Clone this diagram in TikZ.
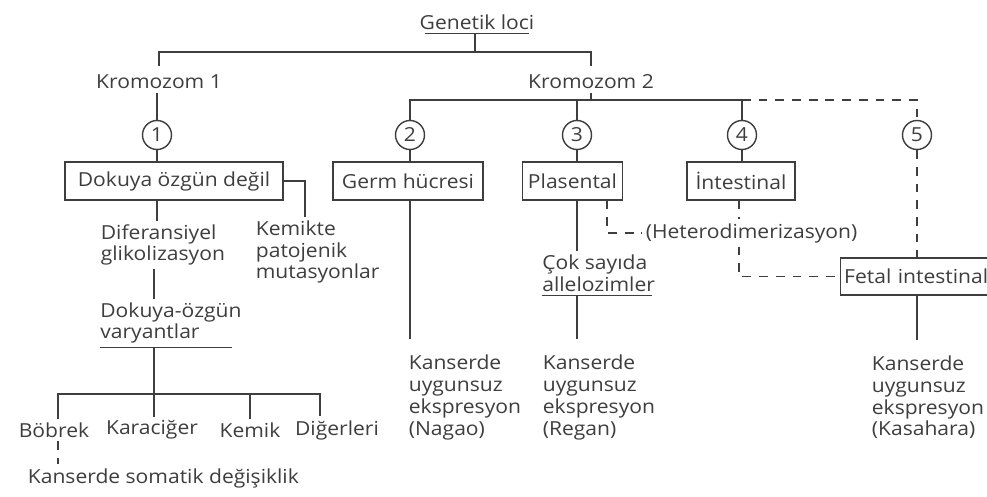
\documentclass[tikz,border=0pt]{standalone}
\usepackage{fontspec}
\setmainfont{Open Sans}[FakeStretch=1.09]
\usepackage{tikz}
\usetikzlibrary{positioning,calc}
\definecolor{ink}{HTML}{3E3E3E}
\definecolor{paper}{HTML}{FFFFFF}
\newcommand{\lfont}{\fontsize{11pt}{12.35pt}\selectfont}
\tikzset{
  lbl/.style={inner sep=2pt, text=ink, font=\lfont, align=left},
  box/.style={draw=ink, line width=0.8pt, inner sep=3pt, minimum height=0.76cm,
              text=ink, font=\lfont},
  num/.style={circle, draw=ink, line width=0.8pt, minimum size=0.58cm,
              inner sep=0pt, text=ink, font=\lfont},
  link/.style={draw=ink, line width=0.8pt},
  dlink/.style={link, dash pattern=on 5pt off 4.5pt}
}

\begin{document}
\begin{tikzpicture}[x=1cm,y=1cm]
        \useasboundingbox[fill=paper] (0,0) rectangle (19.74,9.92);
        % top of the tree
        \node[lbl] (loci) at (9.54,9.48) {Genetik loci};
        \node[lbl] (k1) at (3.18,8.28) {Kromozom 1};
        \node[lbl] (k2) at (11.82,8.28) {Kromozom 2};
        \coordinate (lociJ) at (9.50,8.88);
        \coordinate (k2bar) at (11.86,7.92);
        \draw[link] ([xshift=5pt]loci.south west) -- ([xshift=-5pt]loci.south east);
        \draw[link] (loci.south -| lociJ) -- (lociJ);
        \draw[link] ([yshift=3pt]k1.north) |- (lociJ) -| ([yshift=3pt]k2.north);

        \node[num] (c1) at (3.14,7.22) {1};
        \node[num] (c2) at (8.20,7.22) {2};
        \node[num] (c3) at (11.54,7.22) {3};
        \node[num] (c4) at (14.84,7.22) {4};
        \node[num] (c5) at (18.34,7.22) {5};

        \node[box,minimum width=4.36cm] (dok) at (3.48,6.30) {Dokuya özgün değil};
        \node[box,minimum width=3.0cm] (germ) at (8.16,6.30) {Germ hücresi};
        \node[box,minimum width=1.98cm] (plas) at (11.45,6.30) {Plasental};
        \node[box,minimum width=2.16cm] (intes) at (14.82,6.30) {İntestinal};
        \node[box,anchor=west,text width=3.6cm,align=left,minimum height=0.74cm,
          inner xsep=2pt] (fetal) at (16.80,4.39) {Fetal intestinal};

        \draw[link] (k1.south -| c1) -- (c1.north);
        \draw[link] (k2.south) -- (k2.south |- k2bar);
        \draw[link] (c2.north) |- (c4.north |- k2bar) -- (c4.north);
        \draw[link] (c3.north |- k2bar) -- (c3.north);
        \draw[dlink] (c4.north |- k2bar) -| (c5.north);

        \draw[link] (c1.south) -- (c1.south |- dok.north);
        \draw[link] (c2.south) -- (c2.south |- germ.north);
        \draw[link] (c3.south) -- (c3.south |- plas.north);
        \draw[link] (c4.south) -- (c4.south |- intes.north);
        \draw[dlink] (c5.south) -- (c5.south |- fetal.north);

        % Kromozom 1
        \node[lbl,anchor=west] (difer) at (1.94,5.02) {Diferansiyel\\glikolizasyon};
        \node[lbl,anchor=west] (kemikte) at (5.04,4.88) {Kemikte\\patojenik\\mutasyonlar};
        \node[lbl,anchor=west,inner xsep=0pt] (dvar) at (2.0,3.46) {Dokuya-özgün\\varyantlar};
        \node[lbl] (bob) at (1.08,1.32) {Böbrek};
        \node[lbl] (kar) at (3.04,1.32) {Karaciğer};
        \node[lbl] (kem) at (5.00,1.32) {Kemik};
        \node[lbl] (dig) at (6.74,1.32) {Diğerleri};
        \node[lbl,anchor=west] (soma) at (0.48,0.36) {Kanserde somatik değişiklik};
        \coordinate (vbL) at (1.16,2.04);
        \coordinate (vbM) at (3.08,2.04);
        \coordinate (vbR) at (6.40,2.04);

        \draw[link] (dok.south -| c1) -- (difer.north -| c1);
        \draw[link] (dok.east) -| ($(kemikte.north west)+(1.06,0)$);
        \draw[link] (difer.south -| vbM) -- (dvar.north -| vbM);
        \draw[link] (dvar.south west) -- ++(2.64,0);
        \draw[link] (dvar.south -| vbM) -- (vbM |- kar.north);
        \draw[link] (vbL |- bob.north) -- (vbL) -- (vbR) -- (vbR |- dig.north);
        \draw[link] (kem.north |- vbL) -- (kem.north);
        \draw[dlink] (bob.south -| vbL) -- (soma.north -| vbL);

        % Kromozom 2
        \node[lbl,anchor=west] (nagao) at (8.10,1.97) {Kanserde\\uygunsuz\\ekspresyon\\(Nagao)};
        \node[lbl,anchor=west,inner xsep=0pt] (cok) at (10.84,4.45) {Çok sayıda\\allelozimler};
        \node[lbl,anchor=west] (regan) at (10.78,1.97) {Kanserde\\uygunsuz\\ekspresyon\\(Regan)};
        \node[lbl,anchor=west] (het) at (12.84,5.26) {(Heterodimerizasyon)};
        \node[lbl,anchor=west] (kasa) at (17.36,1.97) {Kanserde\\uygunsuz\\ekspresyon\\(Kasahara)};
        \coordinate (hx) at (12.14,5.26);
        \coordinate (fx) at (14.78,0);

        \draw[link,shorten >=7pt] (germ.south -| c2) -- (nagao.north -| c2);
        \draw[link] (plas.south -| c3) -- (cok.north -| c3);
        \draw[link] (cok.south west) -- ++(2.2,0);
        \draw[link,shorten >=7pt] (cok.south -| c3) -- (regan.north -| c3);
        \draw[dlink] (plas.south -| hx) -- (hx) -- (het.west);
        \draw[dlink] (intes.south -| fx) -- (het.north -| fx);
        \draw[dlink] (het.south -| fx) |- (fetal.west);
        \draw[link,shorten >=7pt] (fetal.south -| c5) -- (kasa.north -| c5);
      \end{tikzpicture}
\end{document}
